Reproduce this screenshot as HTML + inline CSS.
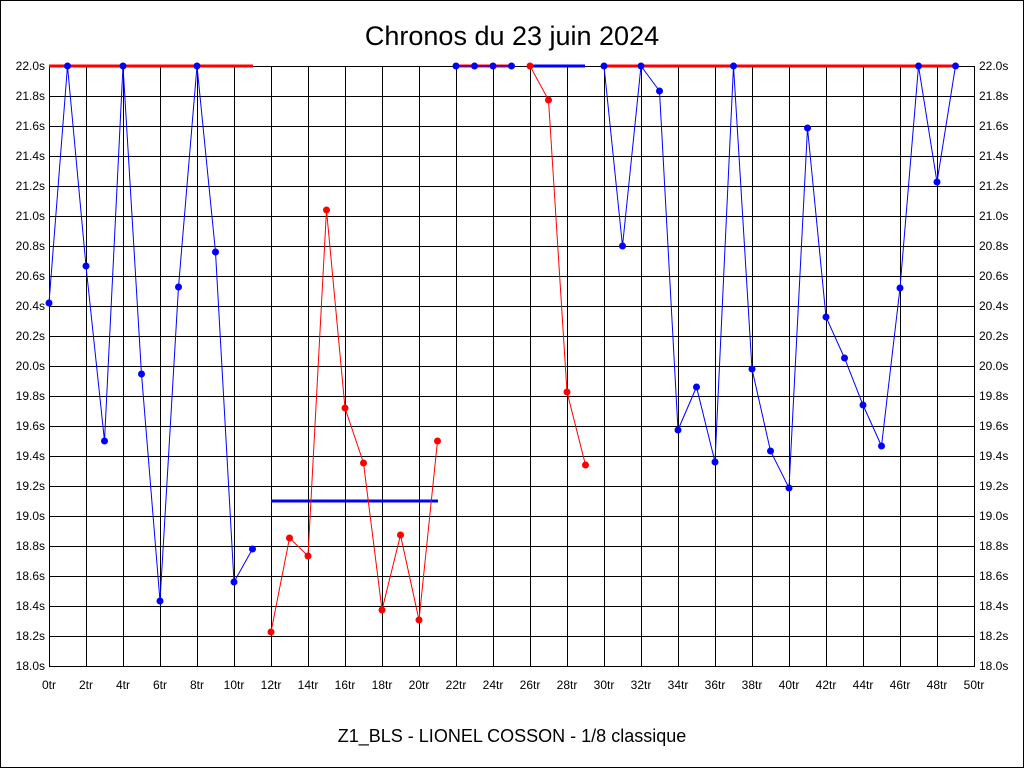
<!DOCTYPE html>
<html><head><meta charset="utf-8"><style>
html,body{margin:0;padding:0;background:#fff}
svg{display:block;font-family:"Liberation Sans",sans-serif}
</style></head><body>
<svg width="1024" height="768" xmlns="http://www.w3.org/2000/svg">
<defs>
<pattern id="g" x="49" y="66" width="37" height="30" patternUnits="userSpaceOnUse">
<path d="M0.5 0V30M0 0.5H37" stroke="#000" stroke-width="1" fill="none"/>
</pattern>
</defs>
<rect x="0.5" y="0.5" width="1023" height="767" fill="#fff" stroke="#000"/>
<rect x="49" y="66" width="925" height="600" fill="url(#g)"/>
<rect x="49.5" y="66.5" width="925" height="600" fill="none" stroke="#000"/>
<text x="512" y="45" font-size="27" text-anchor="middle">Chronos du 23 juin 2024</text>
<text x="512" y="742" font-size="18" text-anchor="middle">Z1_BLS - LIONEL COSSON - 1/8 classique</text>
<g font-size="12" text-anchor="end">
<text x="45" y="70">22.0s</text><text x="45" y="100">21.8s</text><text x="45" y="130">21.6s</text><text x="45" y="160">21.4s</text><text x="45" y="190">21.2s</text><text x="45" y="220">21.0s</text><text x="45" y="250">20.8s</text><text x="45" y="280">20.6s</text><text x="45" y="310">20.4s</text><text x="45" y="340">20.2s</text><text x="45" y="370">20.0s</text><text x="45" y="400">19.8s</text><text x="45" y="430">19.6s</text><text x="45" y="460">19.4s</text><text x="45" y="490">19.2s</text><text x="45" y="520">19.0s</text><text x="45" y="550">18.8s</text><text x="45" y="580">18.6s</text><text x="45" y="610">18.4s</text><text x="45" y="640">18.2s</text><text x="45" y="670">18.0s</text>
</g>
<g font-size="12">
<text x="979" y="70">22.0s</text><text x="979" y="100">21.8s</text><text x="979" y="130">21.6s</text><text x="979" y="160">21.4s</text><text x="979" y="190">21.2s</text><text x="979" y="220">21.0s</text><text x="979" y="250">20.8s</text><text x="979" y="280">20.6s</text><text x="979" y="310">20.4s</text><text x="979" y="340">20.2s</text><text x="979" y="370">20.0s</text><text x="979" y="400">19.8s</text><text x="979" y="430">19.6s</text><text x="979" y="460">19.4s</text><text x="979" y="490">19.2s</text><text x="979" y="520">19.0s</text><text x="979" y="550">18.8s</text><text x="979" y="580">18.6s</text><text x="979" y="610">18.4s</text><text x="979" y="640">18.2s</text><text x="979" y="670">18.0s</text>
</g>
<g font-size="12" text-anchor="middle">
<text x="49" y="689">0tr</text><text x="86" y="689">2tr</text><text x="123" y="689">4tr</text><text x="160" y="689">6tr</text><text x="197" y="689">8tr</text><text x="234" y="689">10tr</text><text x="271" y="689">12tr</text><text x="308" y="689">14tr</text><text x="345" y="689">16tr</text><text x="382" y="689">18tr</text><text x="419" y="689">20tr</text><text x="456" y="689">22tr</text><text x="493" y="689">24tr</text><text x="530" y="689">26tr</text><text x="567" y="689">28tr</text><text x="604" y="689">30tr</text><text x="641" y="689">32tr</text><text x="678" y="689">34tr</text><text x="715" y="689">36tr</text><text x="752" y="689">38tr</text><text x="789" y="689">40tr</text><text x="826" y="689">42tr</text><text x="863" y="689">44tr</text><text x="900" y="689">46tr</text><text x="937" y="689">48tr</text><text x="974" y="689">50tr</text>
</g>
<line x1="49" y1="66" x2="253" y2="66" stroke="#f00" stroke-width="3"/>
<line x1="271" y1="501" x2="438" y2="501" stroke="#00f" stroke-width="3"/>
<line x1="456" y1="66" x2="512" y2="66" stroke="#f00" stroke-width="3"/>
<line x1="530" y1="66" x2="585" y2="66" stroke="#00f" stroke-width="3"/>
<line x1="604" y1="66" x2="956" y2="66" stroke="#f00" stroke-width="3"/>
<polyline fill="none" stroke="#00f" stroke-width="1" points="49,303 67.5,66 86,266 104.5,441 123,66 141.5,374 160,601 178.5,287 197,66 215.5,252 234,582 252.5,549"/>
<polyline fill="none" stroke="#f00" stroke-width="1" points="271,632 289.5,538 308,556 326.5,210 345,408 363.5,463 382,610 400.5,535 419,620 437.5,441"/>
<polyline fill="none" stroke="#00f" stroke-width="1" points="456,66 474.5,66 493,66 511.5,66"/>
<polyline fill="none" stroke="#f00" stroke-width="1" points="530,66 548.5,100 567,392 585.5,465"/>
<polyline fill="none" stroke="#00f" stroke-width="1" points="604,66 622.5,246 641,66 659.5,91 678,430 696.5,387 715,462 733.5,66 752,369 770.5,451 789,488 807.5,128 826,317 844.5,358 863,405 881.5,446 900,288 918.5,66 937,182 955.5,66"/>
<g fill="#00f">
<circle cx="49" cy="303" r="3.5"/><circle cx="67.5" cy="66" r="3.5"/><circle cx="86" cy="266" r="3.5"/><circle cx="104.5" cy="441" r="3.5"/><circle cx="123" cy="66" r="3.5"/><circle cx="141.5" cy="374" r="3.5"/><circle cx="160" cy="601" r="3.5"/><circle cx="178.5" cy="287" r="3.5"/><circle cx="197" cy="66" r="3.5"/><circle cx="215.5" cy="252" r="3.5"/><circle cx="234" cy="582" r="3.5"/><circle cx="252.5" cy="549" r="3.5"/>
<circle cx="456" cy="66" r="3.5"/><circle cx="474.5" cy="66" r="3.5"/><circle cx="493" cy="66" r="3.5"/><circle cx="511.5" cy="66" r="3.5"/>
<circle cx="604" cy="66" r="3.5"/><circle cx="622.5" cy="246" r="3.5"/><circle cx="641" cy="66" r="3.5"/><circle cx="659.5" cy="91" r="3.5"/><circle cx="678" cy="430" r="3.5"/><circle cx="696.5" cy="387" r="3.5"/><circle cx="715" cy="462" r="3.5"/><circle cx="733.5" cy="66" r="3.5"/><circle cx="752" cy="369" r="3.5"/><circle cx="770.5" cy="451" r="3.5"/><circle cx="789" cy="488" r="3.5"/><circle cx="807.5" cy="128" r="3.5"/><circle cx="826" cy="317" r="3.5"/><circle cx="844.5" cy="358" r="3.5"/><circle cx="863" cy="405" r="3.5"/><circle cx="881.5" cy="446" r="3.5"/><circle cx="900" cy="288" r="3.5"/><circle cx="918.5" cy="66" r="3.5"/><circle cx="937" cy="182" r="3.5"/><circle cx="955.5" cy="66" r="3.5"/>
</g>
<g fill="#f00">
<circle cx="271" cy="632" r="3.5"/><circle cx="289.5" cy="538" r="3.5"/><circle cx="308" cy="556" r="3.5"/><circle cx="326.5" cy="210" r="3.5"/><circle cx="345" cy="408" r="3.5"/><circle cx="363.5" cy="463" r="3.5"/><circle cx="382" cy="610" r="3.5"/><circle cx="400.5" cy="535" r="3.5"/><circle cx="419" cy="620" r="3.5"/><circle cx="437.5" cy="441" r="3.5"/>
<circle cx="530" cy="66" r="3.5"/><circle cx="548.5" cy="100" r="3.5"/><circle cx="567" cy="392" r="3.5"/><circle cx="585.5" cy="465" r="3.5"/>
</g>
</svg>
</body></html>
